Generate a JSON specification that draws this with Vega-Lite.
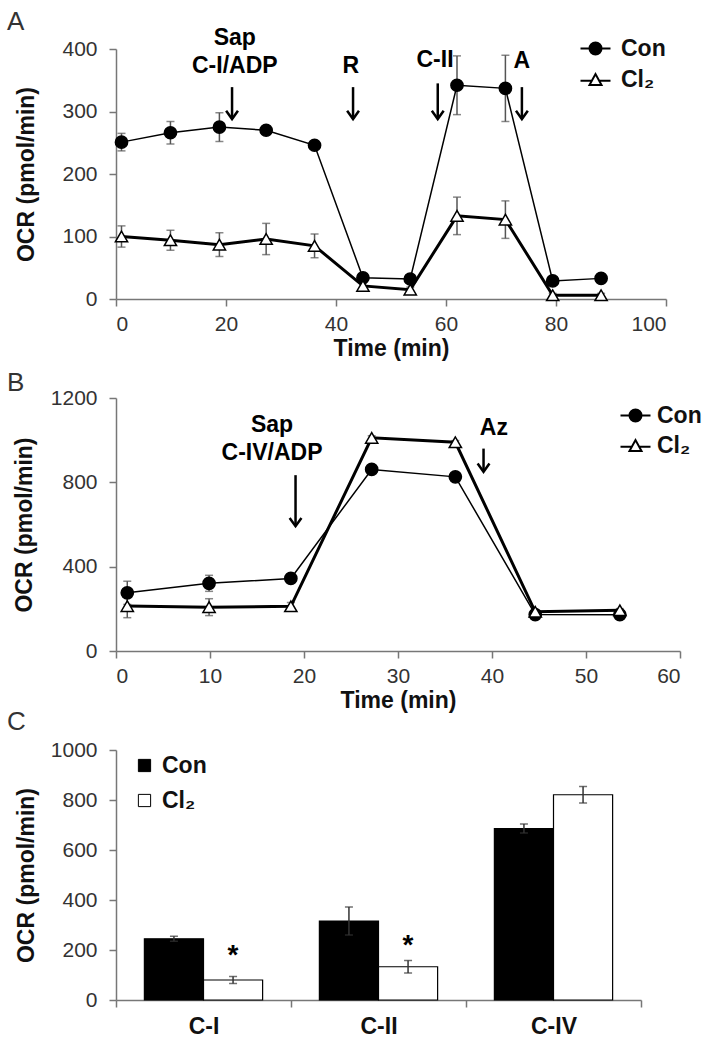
{
  "$schema": "https://vega.github.io/schema/vega-lite/v6.json",
  "background": "white",
  "padding": {"left": 7, "top": 8, "right": 4, "bottom": 4},
  "config": {
    "font": "Liberation Sans",
    "view": {"stroke": null},
    "axis": {"grid": false, "domainColor": "#777", "tickColor": "#777", "domainWidth": 1.5, "tickWidth": 1.5, "tickSize": 7,
      "labelColor": "#333", "labelFontSize": 21, "labelFont": "Liberation Sans", "labelPadding": 7,
      "titleFontSize": 23, "titleFont": "Liberation Sans", "titleFontWeight": "bold", "titleColor": "#111"},
    "axisY": {"labelPadding": 12, "titlePadding": 10},
    "axisX": {"titlePadding": 3},
    "legend": {"labelFontSize": 23, "labelFontWeight": "bold", "labelColor": "#111", "labelFont": "Liberation Sans", "padding": 0},
    "title": {"anchor": "start", "frame": "group", "fontSize": 26, "fontWeight": "normal", "color": "#333", "font": "Liberation Sans"}
  },
  "bounds": "flush",
  "spacing": 99,
  "resolve": {"scale": {"shape": "independent", "fill": "independent", "x": "independent", "y": "independent"}, "legend": {"shape": "independent", "fill": "independent"}},
  "vconcat": [
    {
      "title": {"text": "A", "dx": -109, "dy": 12},
      "width": 550,
      "height": 250,
      "data": {"values": [
        {"series": "Con", "time": 1.0, "ocr": 251, "err": 14},
        {"series": "Con", "time": 9.9, "ocr": 266, "err": 18},
        {"series": "Con", "time": 18.8, "ocr": 275, "err": 23},
        {"series": "Con", "time": 27.3, "ocr": 270, "err": 7},
        {"series": "Con", "time": 36.1, "ocr": 246, "err": 4},
        {"series": "Con", "time": 44.9, "ocr": 34, "err": 5},
        {"series": "Con", "time": 53.5, "ocr": 32, "err": 5},
        {"series": "Con", "time": 62.0, "ocr": 342, "err": 47},
        {"series": "Con", "time": 70.8, "ocr": 337, "err": 53},
        {"series": "Con", "time": 79.4, "ocr": 29, "err": 5},
        {"series": "Con", "time": 88.2, "ocr": 33, "err": 4},
        {"series": "Cl₂", "time": 1.0, "ocr": 100, "err": 17},
        {"series": "Cl₂", "time": 9.9, "ocr": 94, "err": 16},
        {"series": "Cl₂", "time": 18.8, "ocr": 87, "err": 19},
        {"series": "Cl₂", "time": 27.3, "ocr": 96, "err": 25},
        {"series": "Cl₂", "time": 36.1, "ocr": 85, "err": 19},
        {"series": "Cl₂", "time": 44.9, "ocr": 21, "err": 4},
        {"series": "Cl₂", "time": 53.5, "ocr": 15, "err": 4},
        {"series": "Cl₂", "time": 62.0, "ocr": 133, "err": 30},
        {"series": "Cl₂", "time": 70.8, "ocr": 127, "err": 30},
        {"series": "Cl₂", "time": 79.4, "ocr": 6, "err": 3},
        {"series": "Cl₂", "time": 88.2, "ocr": 6, "err": 3}
      ]},
      "layer": [
        {
          "mark": {"type": "errorbar", "color": "#555", "ticks": {"size": 8, "thickness": 1.5}, "rule": {"strokeWidth": 1.5}},
          "encoding": {
            "x": {"field": "time", "type": "quantitative", "title": "Time (min)", "scale": {"domain": [0, 100]}, "axis": {"values": [0, 20, 40, 60, 80, 100]}},
            "y": {"field": "ocr", "type": "quantitative", "title": "OCR (pmol/min)", "scale": {"domain": [0, 400]}, "axis": {"values": [0, 100, 200, 300, 400], "titlePadding": 23}},
            "yError": {"field": "err"}
          }
        },
        {
          "mark": {"type": "line", "color": "black"},
          "encoding": {
            "x": {"field": "time", "type": "quantitative", "title": "Time (min)", "scale": {"domain": [0, 100]}},
            "y": {"field": "ocr", "type": "quantitative", "title": "OCR (pmol/min)", "scale": {"domain": [0, 400]}},
            "detail": {"field": "series"},
            "strokeWidth": {"condition": {"test": "datum.series === 'Con'", "value": 1.5}, "value": 3}
          }
        },
        {
          "mark": {"type": "point", "stroke": "black", "strokeWidth": 1.5, "size": 150, "opacity": 1},
          "encoding": {
            "x": {"field": "time", "type": "quantitative", "title": "Time (min)", "scale": {"domain": [0, 100]}},
            "y": {"field": "ocr", "type": "quantitative", "title": "OCR (pmol/min)", "scale": {"domain": [0, 400]}},
            "fill": {"condition": {"test": "datum.series === 'Con'", "value": "black"}, "value": "white"},
            "shape": {"condition": {"test": "datum.series === 'Con'", "value": "circle"}, "value": "triangle-up"}
          }
        },
        {
          "transform": [{"filter": "false"}],
          "mark": {"type": "point", "filled": true, "stroke": "black", "strokeWidth": 2, "opacity": 1},
          "encoding": {
            "shape": {"field": "series", "type": "nominal", "scale": {"domain": ["Con", "Cl₂"], "range": ["M-2.5,0H2.5M-1,0A1,1 0 1,1 1,0A1,1 0 1,1 -1,0Z", "M-2.5,0.2H-0.55M0.55,0.2H2.5M-1,0.9L0,-0.9L1,0.9Z"]},
              "legend": {"title": null, "orient": "none", "legendX": 468, "legendY": -12, "symbolSize": 144, "symbolStrokeWidth": 2, "labelOffset": 14, "rowPadding": 7}},
            "fill": {"field": "series", "type": "nominal", "scale": {"domain": ["Con", "Cl₂"], "range": ["black", "white"]},
              "legend": {"title": null, "orient": "none", "legendX": 468, "legendY": -12, "symbolSize": 144, "symbolStrokeWidth": 2, "labelOffset": 14, "rowPadding": 7}}
          }
        },
        {
          "data": {"values": [
            {"x": 21.1, "top": 339, "tip": 288},
            {"x": 43.1, "top": 339, "tip": 288},
            {"x": 58.5, "top": 345, "tip": 288},
            {"x": 73.8, "top": 339, "tip": 288}
          ]},
          "layer": [
            {
              "mark": {"type": "rule", "color": "black", "strokeWidth": 2.5},
              "encoding": {
                "x": {"field": "x", "type": "quantitative", "title": "Time (min)", "scale": {"domain": [0, 100]}},
                "y": {"field": "top", "type": "quantitative", "title": "OCR (pmol/min)", "scale": {"domain": [0, 400]}},
                "y2": {"field": "tip"}
              }
            },
            {
              "mark": {"type": "point", "shape": "M-1,-1.4L0,0L1,-1.4", "filled": false, "stroke": "black", "strokeWidth": 2.5, "size": 140, "opacity": 1},
              "encoding": {
                "x": {"field": "x", "type": "quantitative", "title": "Time (min)", "scale": {"domain": [0, 100]}},
                "y": {"field": "tip", "type": "quantitative", "title": "OCR (pmol/min)", "scale": {"domain": [0, 400]}}
              }
            }
          ]
        },
        {
          "data": {"values": [
            {"x": 21.6, "y": 418, "label": "Sap"},
            {"x": 21.6, "y": 373, "label": "C-I/ADP"},
            {"x": 42.7, "y": 373, "label": "R"},
            {"x": 58.0, "y": 382, "label": "C-II"},
            {"x": 73.8, "y": 381, "label": "A"}
          ]},
          "mark": {"type": "text", "fontWeight": "bold", "fontSize": 23, "color": "black", "baseline": "middle"},
          "encoding": {
            "x": {"field": "x", "type": "quantitative", "title": "Time (min)", "scale": {"domain": [0, 100]}},
            "y": {"field": "y", "type": "quantitative", "title": "OCR (pmol/min)", "scale": {"domain": [0, 400]}},
            "text": {"field": "label"}
          }
        }
      ]
    },
    {
      "title": {"text": "B", "dx": -109, "dy": 13},
      "width": 564,
      "height": 253,
      "data": {"values": [
        {"series": "Con", "time": 1.2, "ocr": 276, "err": 55},
        {"series": "Con", "time": 9.9, "ocr": 321, "err": 38},
        {"series": "Con", "time": 18.6, "ocr": 344, "err": 22},
        {"series": "Con", "time": 27.2, "ocr": 861, "err": 8},
        {"series": "Con", "time": 36.1, "ocr": 826, "err": 8},
        {"series": "Con", "time": 44.6, "ocr": 173, "err": 8},
        {"series": "Con", "time": 53.6, "ocr": 172, "err": 6},
        {"series": "Cl₂", "time": 1.2, "ocr": 213, "err": 55},
        {"series": "Cl₂", "time": 9.9, "ocr": 208, "err": 40},
        {"series": "Cl₂", "time": 18.6, "ocr": 212, "err": 18},
        {"series": "Cl₂", "time": 27.2, "ocr": 1011, "err": 10},
        {"series": "Cl₂", "time": 36.1, "ocr": 990, "err": 8},
        {"series": "Cl₂", "time": 44.6, "ocr": 186, "err": 8},
        {"series": "Cl₂", "time": 53.6, "ocr": 193, "err": 8}
      ]},
      "layer": [
        {
          "mark": {"type": "errorbar", "color": "#555", "ticks": {"size": 8, "thickness": 1.5}, "rule": {"strokeWidth": 1.5}},
          "encoding": {
            "x": {"field": "time", "type": "quantitative", "title": "Time (min)", "scale": {"domain": [0, 60]}, "axis": {"values": [0, 10, 20, 30, 40, 50, 60]}},
            "y": {"field": "ocr", "type": "quantitative", "title": "OCR (pmol/min)", "scale": {"domain": [0, 1200]}, "axis": {"values": [0, 400, 800, 1200], "format": "d", "titlePadding": 14}},
            "yError": {"field": "err"}
          }
        },
        {
          "mark": {"type": "line", "color": "black"},
          "encoding": {
            "x": {"field": "time", "type": "quantitative", "title": "Time (min)", "scale": {"domain": [0, 60]}},
            "y": {"field": "ocr", "type": "quantitative", "title": "OCR (pmol/min)", "scale": {"domain": [0, 1200]}},
            "detail": {"field": "series"},
            "strokeWidth": {"condition": {"test": "datum.series === 'Con'", "value": 1.5}, "value": 3}
          }
        },
        {
          "mark": {"type": "point", "stroke": "black", "strokeWidth": 1.5, "size": 150, "opacity": 1},
          "encoding": {
            "x": {"field": "time", "type": "quantitative", "title": "Time (min)", "scale": {"domain": [0, 60]}},
            "y": {"field": "ocr", "type": "quantitative", "title": "OCR (pmol/min)", "scale": {"domain": [0, 1200]}},
            "fill": {"condition": {"test": "datum.series === 'Con'", "value": "black"}, "value": "white"},
            "shape": {"condition": {"test": "datum.series === 'Con'", "value": "circle"}, "value": "triangle-up"}
          }
        },
        {
          "transform": [{"filter": "false"}],
          "mark": {"type": "point", "filled": true, "stroke": "black", "strokeWidth": 2, "opacity": 1},
          "encoding": {
            "shape": {"field": "series", "type": "nominal", "scale": {"domain": ["Con", "Cl₂"], "range": ["M-2.5,0H2.5M-1,0A1,1 0 1,1 1,0A1,1 0 1,1 -1,0Z", "M-2.5,0.2H-0.55M0.55,0.2H2.5M-1,0.9L0,-0.9L1,0.9Z"]},
              "legend": {"title": null, "orient": "none", "legendX": 508, "legendY": 6, "symbolSize": 144, "symbolStrokeWidth": 2, "labelOffset": 10, "rowPadding": 6}},
            "fill": {"field": "series", "type": "nominal", "scale": {"domain": ["Con", "Cl₂"], "range": ["black", "white"]},
              "legend": {"title": null, "orient": "none", "legendX": 508, "legendY": 6, "symbolSize": 144, "symbolStrokeWidth": 2, "labelOffset": 10, "rowPadding": 6}}
          }
        },
        {
          "data": {"values": [
            {"x": 19.1, "top": 834, "tip": 592},
            {"x": 39.1, "top": 960, "tip": 850}
          ]},
          "layer": [
            {
              "mark": {"type": "rule", "color": "black", "strokeWidth": 2.5},
              "encoding": {
                "x": {"field": "x", "type": "quantitative", "title": "Time (min)", "scale": {"domain": [0, 60]}},
                "y": {"field": "top", "type": "quantitative", "title": "OCR (pmol/min)", "scale": {"domain": [0, 1200]}},
                "y2": {"field": "tip"}
              }
            },
            {
              "mark": {"type": "point", "shape": "M-1,-1.4L0,0L1,-1.4", "filled": false, "stroke": "black", "strokeWidth": 2.5, "size": 140, "opacity": 1},
              "encoding": {
                "x": {"field": "x", "type": "quantitative", "title": "Time (min)", "scale": {"domain": [0, 60]}},
                "y": {"field": "tip", "type": "quantitative", "title": "OCR (pmol/min)", "scale": {"domain": [0, 1200]}}
              }
            }
          ]
        },
        {
          "data": {"values": [
            {"x": 16.6, "y": 1071, "label": "Sap"},
            {"x": 16.6, "y": 938, "label": "C-IV/ADP"},
            {"x": 40.2, "y": 1057, "label": "Az"}
          ]},
          "mark": {"type": "text", "fontWeight": "bold", "fontSize": 23, "color": "black", "baseline": "middle"},
          "encoding": {
            "x": {"field": "x", "type": "quantitative", "title": "Time (min)", "scale": {"domain": [0, 60]}},
            "y": {"field": "y", "type": "quantitative", "title": "OCR (pmol/min)", "scale": {"domain": [0, 1200]}},
            "text": {"field": "label"}
          }
        }
      ]
    },
    {
      "title": {"text": "C", "dx": -109, "dy": 0},
      "width": 525,
      "height": 250,
      "data": {"values": [
        {"complex": "C-I", "group": "Con", "ocr": 245, "err": 10},
        {"complex": "C-I", "group": "Cl₂", "ocr": 80, "err": 14},
        {"complex": "C-II", "group": "Con", "ocr": 316, "err": 56},
        {"complex": "C-II", "group": "Cl₂", "ocr": 133, "err": 25},
        {"complex": "C-IV", "group": "Con", "ocr": 686, "err": 18},
        {"complex": "C-IV", "group": "Cl₂", "ocr": 821, "err": 33}
      ]},
      "layer": [
        {
          "mark": {"type": "bar", "stroke": "black", "strokeWidth": 1.2},
          "encoding": {
            "x": {"field": "complex", "type": "nominal", "title": null, "scale": {"domain": ["C-I", "C-II", "C-IV"], "paddingInner": 0, "paddingOuter": 0},
              "axis": {"tickBand": "extent", "labelAngle": 0, "labelFontWeight": "bold", "labelFontSize": 23, "labelColor": "#111", "labelPadding": 8}},
            "xOffset": {"field": "group", "type": "nominal", "scale": {"domain": ["Con", "Cl₂"], "paddingInner": 0, "paddingOuter": 0.48}},
            "y": {"field": "ocr", "type": "quantitative", "title": "OCR (pmol/min)", "scale": {"domain": [0, 1000]}, "axis": {"values": [0, 200, 400, 600, 800, 1000], "format": "d", "titlePadding": 12}},
            "fill": {"field": "group", "type": "nominal", "scale": {"domain": ["Con", "Cl₂"], "range": ["black", "white"]},
              "legend": {"title": null, "orient": "none", "legendX": 17, "legendY": 4, "symbolType": "square", "symbolSize": 150, "symbolStrokeColor": "black", "symbolStrokeWidth": 1, "labelOffset": 6, "rowPadding": 11}}
          }
        },
        {
          "mark": {"type": "errorbar", "color": "#333", "ticks": {"size": 8, "thickness": 1.5}, "rule": {"strokeWidth": 1.5}},
          "encoding": {
            "x": {"field": "complex", "type": "nominal", "title": null},
            "xOffset": {"field": "group", "type": "nominal"},
            "y": {"field": "ocr", "type": "quantitative", "title": "OCR (pmol/min)", "scale": {"domain": [0, 1000]}},
            "yError": {"field": "err"}
          }
        },
        {
          "data": {"values": [
            {"complex": "C-I", "group": "Cl₂", "y": 200, "mark": "*"},
            {"complex": "C-II", "group": "Cl₂", "y": 242, "mark": "*"}
          ]},
          "mark": {"type": "text", "fontWeight": "bold", "fontSize": 28, "color": "black", "baseline": "middle", "dy": 6},
          "encoding": {
            "x": {"field": "complex", "type": "nominal", "title": null},
            "xOffset": {"field": "group", "type": "nominal"},
            "y": {"field": "y", "type": "quantitative", "title": "OCR (pmol/min)", "scale": {"domain": [0, 1000]}},
            "text": {"field": "mark"}
          }
        }
      ]
    }
  ]
}
